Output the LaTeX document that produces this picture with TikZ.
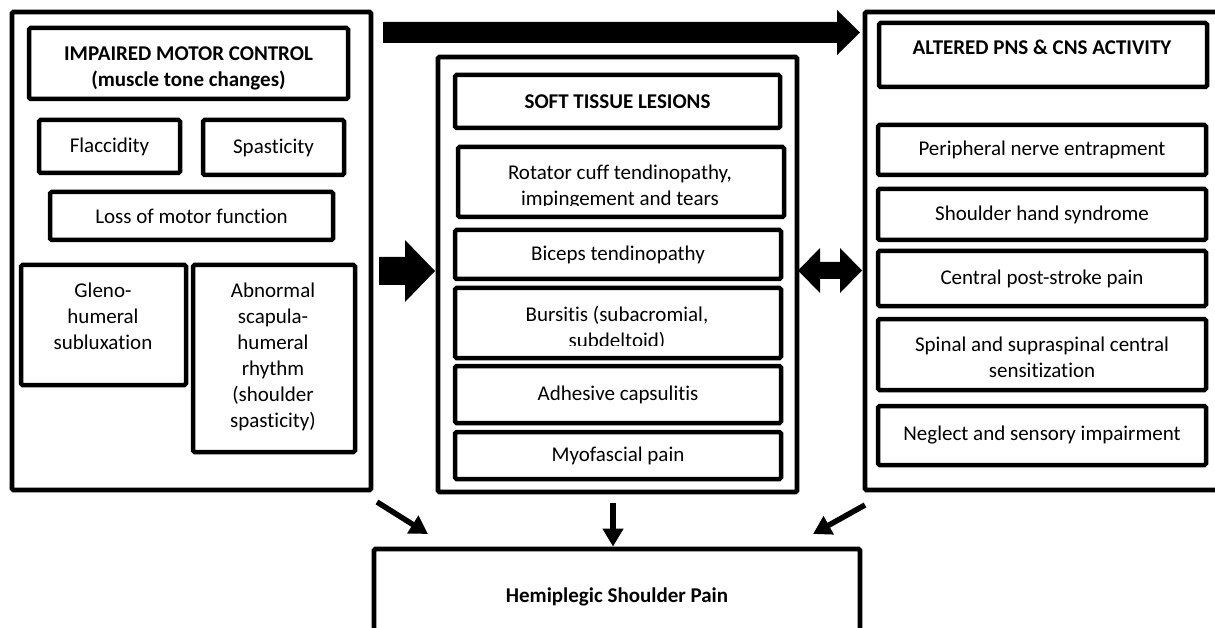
\documentclass[tikz,border=0pt]{standalone}
\usepackage{fontspec}
\setmainfont{Carlito}[Ligatures={NoCommon,NoContextual}]
\usetikzlibrary{arrows.meta}
\newcommand\szf{\fontsize{21}{26}\selectfont}
\tikzset{
  box/.style={draw, line width=4.5pt, rounded corners=1.5pt, inner sep=0pt, align=center, font=\szf},
  outerbox/.style={box, line width=4.8pt},
  txt/.style={inner sep=0pt, align=center, font=\szf},
  hd/.style={font=\szf\bfseries},
  thinar/.style={line width=5.5pt, -{Triangle[length=18pt,width=20pt]}},
  blockar/.style={fill=black}
}
\begin{document}
\begin{tikzpicture}[x=1pt,y=-1pt]
\useasboundingbox (0,0) rectangle (1215,628);
% ---------- left column ----------
\node[outerbox, minimum width=359pt, minimum height=478pt] (lout) at (191.5,251) {};
\node[box, minimum width=319pt, minimum height=71pt] (imc) at (188.5,63.5) {};
\node[txt, hd] (imct) at (188.5,68.5) {IMPAIRED MOTOR CONTROL\\(muscle tone changes)};
\node[box, minimum width=141pt, minimum height=53pt] (fla) at (109.5,146.5) {Flaccidity};
\node[box, minimum width=141pt, minimum height=55pt] (spa) at (273.5,147.5) {Spasticity};
\node[box, minimum width=283pt, minimum height=48pt] (loss) at (191.5,216) {Loss of motor function};
\node[box, minimum width=165pt, minimum height=120pt] (gle) at (103.5,325) {};
\node[txt] (glet) at (103,316) {Gleno-\\humeral\\subluxation};
\node[box, minimum width=162pt, minimum height=187pt] (abn) at (274,358.5) {};
\node[txt] (abnt) at (273,357) {Abnormal\\scapula-\\humeral\\rhythm\\(shoulder\\spasticity)};
% ---------- middle column ----------
\node[outerbox, minimum width=359pt, minimum height=435pt] (mout) at (617.5,274.5) {};
\node[box, hd, minimum width=325pt, minimum height=53pt] (stl) at (617.5,101.5) {SOFT TISSUE LESIONS};
\node[box, minimum width=326pt, minimum height=70pt] (rot) at (621,182) {};
\begin{scope}
  \clip (458,150) rectangle (784,205.5);
  \node[txt] (rott) at (620,187.5) {Rotator cuff tendinopathy,\\impingement and tears};
\end{scope}
\node[box, minimum width=326pt, minimum height=49pt] (bic) at (618,254.5) {Biceps tendinopathy};
\node[box, minimum width=326pt, minimum height=70pt] (bur) at (618,323) {};
\begin{scope}
  \clip (455,291) rectangle (781,345.5);
  \node[txt] (burt) at (617,327.8) {Bursitis (subacromial,\\subdeltoid)};
\end{scope}
\node[box, minimum width=326pt, minimum height=57pt] (adh) at (618,394.5) {Adhesive capsulitis};
\node[box, minimum width=326pt, minimum height=47pt] (myo) at (618,455.5) {Myofascial pain};
% ---------- right column ----------
\node[outerbox, minimum width=375pt, minimum height=478pt] (rout) at (1052.5,251) {};
\node[box, minimum width=328pt, minimum height=64pt] (alt) at (1043,55) {};
\node[txt, hd, anchor=base] (altt) at (1042,55) {ALTERED PNS \& CNS ACTIVITY};
\node[box, minimum width=328pt, minimum height=50pt] (per) at (1042,150) {Peripheral nerve entrapment};
\node[box, minimum width=328pt, minimum height=51pt] (shs) at (1042,214.5) {Shoulder hand syndrome};
\node[box, minimum width=328pt, minimum height=55pt] (cps) at (1042,278.5) {Central post-stroke pain};
\node[box, minimum width=328pt, minimum height=71pt] (sss) at (1042,354.5) {};
\node[txt] (ssst) at (1042,357.5) {Spinal and supraspinal central\\sensitization};
\node[box, minimum width=328pt, minimum height=59pt] (neg) at (1042,435.5) {Neglect and sensory impairment};
% ---------- bottom ----------
\node[outerbox, hd, minimum width=486pt, minimum height=96pt] (hsp) at (617,597) {Hemiplegic Shoulder Pain};
% ---------- block arrows ----------
\fill[blockar] (383,22) -- (837,22) -- (837,10) -- (860,32.5) -- (837,55) -- (837,43) -- (383,43) -- cycle;
\fill[blockar] (379,257) -- (405,257) -- (405,240) -- (435,271) -- (405,302) -- (405,285) -- (379,285) -- cycle;
\fill[blockar] (798,270.5) -- (820,248) -- (820,262) -- (840,262) -- (840,248) -- (862,270.5)
   -- (840,293) -- (840,279) -- (820,279) -- (820,293) -- cycle;
% ---------- thin arrows ----------
\coordinate (la1) at (377,502);
\coordinate (la2) at (428,534);
\coordinate (ra1) at (865,505);
\coordinate (ra2) at (813,534);
\coordinate (ca1) at (613,503);
\draw[thinar] (la1) -- (la2);
\draw[thinar] (ra1) -- (ra2);
\draw[thinar] (ca1) -- (ca1 |- hsp.north);
\end{tikzpicture}
\end{document}
